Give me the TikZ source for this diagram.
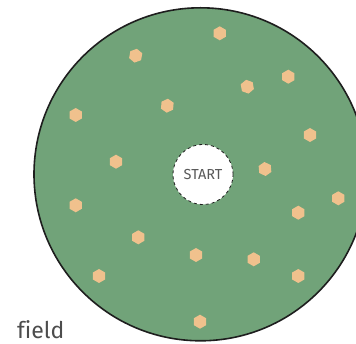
\documentclass[tikz,border=0pt]{standalone}
\usepackage{fontspec}
\setmainfont[Ligatures=NoCommon]{Fira Sans}
\usetikzlibrary{shapes.geometric}
\definecolor{fieldgreen}{RGB}{113,163,121}
\definecolor{dotorange}{RGB}{240,193,141}
\definecolor{rimdark}{RGB}{30,30,30}
\tikzset{
  hexdot/.style={regular polygon, regular polygon sides=6, shape border rotate=30,
    minimum size=14pt, inner sep=0pt, fill=dotorange, draw=none},
  fieldarea/.style={circle, fill=fieldgreen, draw=rimdark, line width=1.6pt,
    minimum size=333pt, inner sep=0pt},
  startbox/.style={circle, fill=white, draw=rimdark, dashed, line width=0.8pt,
    minimum size=60pt, inner sep=0pt, font=\fontsize{14.5}{16}\selectfont, text=black!65},
  fieldlabel/.style={anchor=base west, inner sep=0pt, font=\fontsize{23}{26}\selectfont, text=black!70}
}
\begin{document}
\begin{tikzpicture}[x=1pt,y=-1pt]
\useasboundingbox (0,0) rectangle (356,344);
\clip (0,0) rectangle (356,344);
\node[fieldarea] (field) at (200.5,174.3) {};
\node[startbox] (start) at (203,174.5) {START};
\foreach \px/\py/\rt [count=\i] in {
  219.7/33.3/30, 135.7/55.7/20, 288.3/76.7/30, 247.3/86.7/40, 167.3/105.7/25,
  75.7/115/30, 310/135/30, 116/161.7/30, 265/169/35, 75.7/205.3/30,
  338.3/198.3/30, 298.3/212.7/30, 138.3/237.3/30, 196/255/30, 253.7/259.3/30,
  99/276/30, 298.3/276/30, 200/321.7/30}
  \node[hexdot, shape border rotate=\rt] (h\i) at (\px,\py) {};
\node[fieldlabel] (lbl) at (17,339) {field};
\end{tikzpicture}
\end{document}
